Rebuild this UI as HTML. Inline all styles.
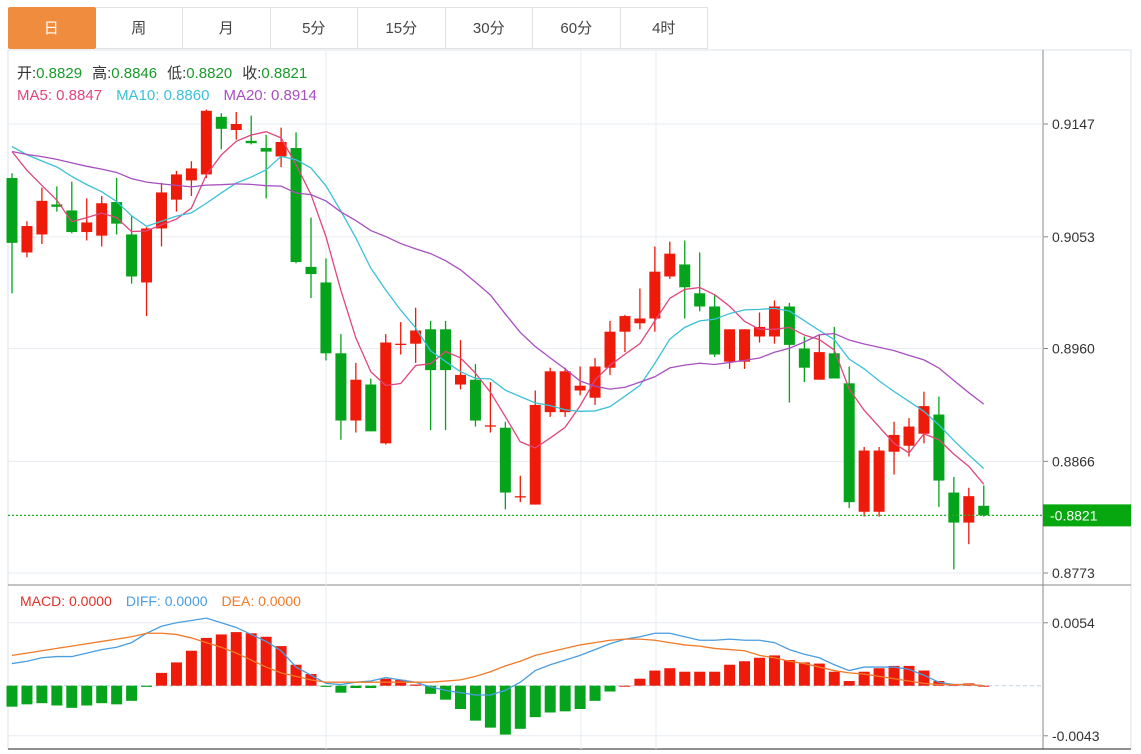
<!DOCTYPE html>
<html><head><meta charset="utf-8">
<style>
html,body{margin:0;padding:0;background:#fff;width:1141px;height:754px;overflow:hidden;font-family:"Liberation Sans","Noto Sans CJK SC",sans-serif;}
.tabs{position:absolute;left:8px;top:7px;height:43px;display:flex;}
.tab{width:87.5px;height:42px;border:1px solid #e2e2e2;border-left:none;box-sizing:border-box;text-align:center;line-height:42px;font-size:15px;color:#444;background:#fff;}
.tab.active{background:#f08c3e;color:#fff;border-color:#f08c3e;border-radius:2px;}
svg{position:absolute;left:0;top:0;}
</style></head><body>
<div class="tabs">
<div class="tab active">日</div>
<div class="tab">周</div>
<div class="tab">月</div>
<div class="tab">5分</div>
<div class="tab">15分</div>
<div class="tab">30分</div>
<div class="tab">60分</div>
<div class="tab">4时</div>
</div>
<svg id="chart" width="1141" height="754" style="top:0;left:0">
<g id="grid"></g>
<g id="marks"></g>
<g id="legend" font-size="15">
<text x="17" y="78"><tspan fill="#333">开:</tspan><tspan fill="#1a9a2a">0.8829</tspan><tspan fill="#333" dx="10">高:</tspan><tspan fill="#1a9a2a">0.8846</tspan><tspan fill="#333" dx="10">低:</tspan><tspan fill="#1a9a2a">0.8820</tspan><tspan fill="#333" dx="10">收:</tspan><tspan fill="#1a9a2a">0.8821</tspan></text>
<text x="17" y="100"><tspan fill="#e0467c">MA5: 0.8847</tspan><tspan fill="#3cc0d8" dx="14">MA10: 0.8860</tspan><tspan fill="#a84fc0" dx="14">MA20: 0.8914</tspan></text>
<text x="20" y="606" font-size="14"><tspan fill="#e0302a">MACD: 0.0000</tspan><tspan fill="#4a9de0" dx="14">DIFF: 0.0000</tspan><tspan fill="#f07a28" dx="14">DEA: 0.0000</tspan></text>
</g>
</svg>
<script>
const opens=[.9102,.9040,.9055,.9080,.9075,.9057,.9054,.9082,.9055,.9015,.9060,.9084,.9100,.9105,.9153,.9142,.9133,.9127,.9120,.9127,.9028,.9015,.8956,.8900,.8930,.8881,.8963,.8964,.8976,.8976,.8930,.8934,.8895,.8894,.8836,.8830,.8907,.8907,.8925,.8919,.8944,.8974,.8981,.8985,.9020,.9030,.9006,.8995,.8949,.8949,.8970,.8970,.8995,.8960,.8934,.8956,.8931,.8824,.8824,.8874,.8879,.8889,.8905,.8840,.8815,.8829];
const highs=[.9106,.9066,.9094,.9095,.9099,.9085,.9087,.9102,.9070,.9061,.9098,.9108,.9116,.9159,.9156,.9157,.9154,.9138,.9144,.9140,.9069,.9035,.8972,.8948,.8935,.8972,.8982,.8994,.8983,.8983,.8967,.8947,.8932,.8899,.8854,.8925,.8944,.8944,.8945,.8952,.8983,.8988,.9010,.9045,.9049,.9050,.9040,.9005,.8976,.8976,.8990,.9000,.8998,.8970,.8971,.8978,.8945,.8878,.8878,.8899,.8902,.8924,.8920,.8853,.8844,.8846];
const lows=[.9006,.9036,.9047,.9074,.9056,.9050,.9045,.9055,.9014,.8987,.9045,.9074,.9087,.9102,.9126,.9134,.9130,.9085,.9111,.9031,.9002,.8950,.8884,.8890,.8891,.8880,.8955,.8948,.8892,.8892,.8926,.8895,.8890,.8826,.8832,.8830,.8903,.8903,.8921,.8913,.8938,.8957,.8976,.8974,.9018,.8985,.8991,.8953,.8943,.8943,.8965,.8964,.8915,.8932,.8934,.8935,.8827,.8820,.8820,.8855,.8870,.8881,.8828,.8776,.8797,.8820];
const closes=[.9048,.9062,.9083,.9078,.9057,.9065,.9081,.9064,.9020,.9060,.9090,.9105,.9110,.9158,.9143,.9147,.9131,.9124,.9132,.9032,.9022,.8956,.8900,.8934,.8891,.8965,.8964,.8975,.8942,.8942,.8938,.8900,.8896,.8840,.8837,.8913,.8941,.8941,.8929,.8945,.8974,.8987,.8985,.9024,.9039,.9011,.8995,.8955,.8976,.8976,.8978,.8995,.8963,.8944,.8957,.8935,.8832,.8875,.8875,.8888,.8895,.8912,.8850,.8815,.8837,.8821];
const priorCloses=[.9112,.9118,.9125,.9115,.9122,.9128,.9119,.9124,.9117,.9120,.9130,.9135,.9128,.9136,.9133,.9140,.9146,.9139,.9147];
const macdBars=[-.0018,-.0016,-.0015,-.0017,-.0019,-.0017,-.0015,-.0016,-.0013,-.0001,.0011,.0020,.0030,.0041,.0044,.0046,.0045,.0042,.0034,.0018,.0010,-.0001,-.0006,-.0002,-.0002,.0006,.0005,.0001,-.0007,-.0012,-.0020,-.0030,-.0036,-.0042,-.0037,-.0027,-.0023,-.0022,-.0020,-.0013,-.0005,.0000,.0006,.0013,.0015,.0012,.0012,.0012,.0018,.0021,.0024,.0026,.0022,.0020,.0019,.0012,.0004,.0012,.0015,.0017,.0017,.0013,.0004,.0001,.0002,.0000];
const diffLine=[.0019,.0021,.0024,.0025,.0025,.0028,.0031,.0033,.0037,.0045,.0051,.0054,.0056,.0058,.0054,.0050,.0044,.0038,.0030,.0016,.0009,.0002,.0001,.0003,.0004,.0007,.0005,.0003,-.0001,-.0004,-.0006,-.0008,-.0008,-.0004,.0003,.0013,.0018,.0022,.0026,.0031,.0036,.0040,.0042,.0045,.0045,.0042,.0039,.0039,.0040,.0039,.0039,.0037,.0031,.0027,.0024,.0018,.0013,.0016,.0016,.0016,.0014,.0009,.0003,.0001,.0001,.0000];
const deaLine=[.0026,.0028,.0030,.0032,.0034,.0036,.0038,.0040,.0042,.0045,.0045,.0044,.0041,.0037,.0033,.0028,.0022,.0016,.0011,.0008,.0005,.0003,.0003,.0003,.0003,.0003,.0003,.0003,.0003,.0004,.0005,.0008,.0012,.0017,.0021,.0026,.0029,.0032,.0035,.0037,.0039,.0040,.0040,.0039,.0037,.0035,.0034,.0032,.0031,.0030,.0026,.0024,.0021,.0019,.0016,.0013,.0011,.0010,.0008,.0006,.0004,.0002,.0001,.0001,.0001,.0000];
const priceTicks=[0.9147,0.9053,0.8960,0.8866,0.8773];
const macdTicks=[0.0054,-0.0043];
const lastPrice=0.8821;

const NS='http://www.w3.org/2000/svg';
const RED='#ee1a0a',GREEN='#05a41c';
function yP(v){return 124+(0.9147-v)*(449/0.0374);}
function yM(v){return 685.7-v*11650;}
function xI(i){return 12+i*14.95;}
function mk(tag,attrs,parent){const e=document.createElementNS(NS,tag);for(const k in attrs)e.setAttribute(k,attrs[k]);parent.appendChild(e);return e;}
const grid=document.getElementById('grid'),marks=document.getElementById('marks');

let r=mk('rect',{x:8,y:50,width:1123,height:699,fill:'none',stroke:'#dde3ea'},grid);


let ln=mk('line',{x1:1043,y1:50,x2:1043,y2:749,stroke:'#888'},grid);


ln=mk('line',{x1:8,y1:585,x2:1131,y2:585,stroke:'#888'},grid);


ln=mk('line',{x1:8,y1:749,x2:1131,y2:749,stroke:'#222'},grid);


[326,581,656].forEach(x=>{
  const g=mk('line',{x1:x,y1:50,x2:x,y2:749,stroke:'#e6ecf2'},grid);
  
  
});
priceTicks.forEach(v=>{
  const y=yP(v);
  const g=mk('line',{x1:8,y1:y,x2:1043,y2:y,stroke:'#e6ecf2'},grid);
  
  
  mk('line',{x1:1043,y1:y,x2:1048,y2:y,stroke:'#888'},grid);
  const t=mk('text',{x:1052,y:y+5,'font-size':14,fill:'#333'},grid);
  t.textContent=v.toFixed(4);
  
  
});
macdTicks.forEach(v=>{
  const y=yM(v);
  const g=mk('line',{x1:8,y1:y,x2:1043,y2:y,stroke:'#e6ecf2'},grid);
  
  
  mk('line',{x1:1043,y1:y,x2:1048,y2:y,stroke:'#888'},grid);
  const t=mk('text',{x:1052,y:y+5,'font-size':14,fill:'#333'},grid);
  t.textContent=v.toFixed(4);
  
  
});
let z=mk('line',{x1:8,y1:yM(0),x2:1043,y2:yM(0),stroke:'#b8d4e8','stroke-dasharray':'4,3'},grid);



closes.forEach((c,i)=>{
  const o=opens[i],h=highs[i],l=lows[i];
  const col=c>o?RED:GREEN;
  const x=xI(i);
  const g=mk('g',{},marks);
  
  
  mk('line',{x1:x,y1:yP(h),x2:x,y2:yP(l),stroke:col,'stroke-width':1.3},g);
  const top=yP(Math.max(o,c)),bot=yP(Math.min(o,c));
  mk('rect',{x:x-5.5,y:top,width:11,height:Math.max(1.3,bot-top),fill:col},g);
});
const all=priorCloses.concat(closes);
function ma(n){return closes.map((c,i)=>{const k=i+priorCloses.length;let s=0;for(let j=k-n+1;j<=k;j++)s+=all[j];return s/n;});}
[[5,'#e0467c','ma5-line'],[10,'#3cc0d8','ma10-line'],[20,'#a84fc0','ma20-line']].forEach(([n,col,name])=>{
  const vals=ma(n);
  const p=mk('polyline',{points:vals.map((v,i)=>xI(i)+','+yP(v)).join(' '),fill:'none',stroke:col,'stroke-width':1.3},marks);
  
  
});
const ly=yP(lastPrice);
let lp=mk('line',{x1:8,y1:ly,x2:1043,y2:ly,stroke:'#22b022','stroke-width':1.2,'stroke-dasharray':'2,2'},marks);


let lb=mk('rect',{x:1043,y:ly-11,width:88,height:22,fill:'#07a80f'},marks);


let lt=mk('text',{x:1050,y:ly+5,'font-size':14,fill:'#fff'},marks);
lt.textContent='-'+lastPrice.toFixed(4);


macdBars.forEach((v,i)=>{
  const x=xI(i),y0=yM(0),y1=yM(v);
  const b=mk('rect',{x:x-5.5,y:Math.min(y0,y1),width:11,height:Math.max(1,Math.abs(y1-y0)),fill:v>=0?RED:GREEN},marks);
  
  
});
[[diffLine,'#4a9de0','diff-line'],[deaLine,'#f07a28','dea-line']].forEach(([arr,col,name])=>{
  const p=mk('polyline',{points:arr.map((v,i)=>xI(i)+','+yM(v)).join(' '),fill:'none',stroke:col,'stroke-width':1.3},marks);
  
  
});
</script>
</body></html>
